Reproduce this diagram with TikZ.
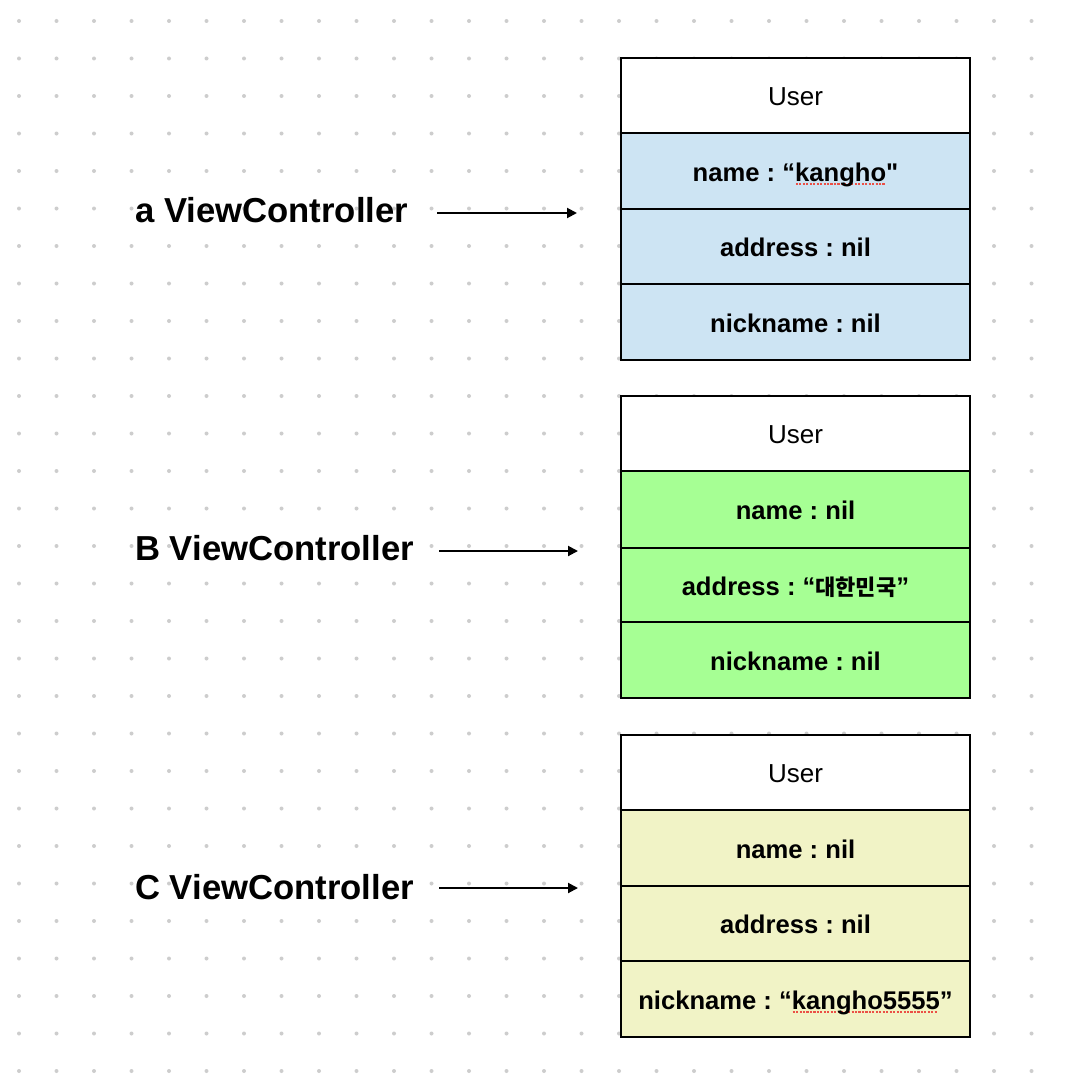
\documentclass[tikz,border=0pt]{standalone}
\usepackage{fontspec}
\setmainfont{Liberation Sans}
\newfontfamily\krfont{Noto Sans CJK KR}
\newfontfamily\noligfont{Liberation Sans}[Ligatures=TeXOff]
\usetikzlibrary{arrows.meta}
\definecolor{bluefill}{RGB}{205,228,243}
\definecolor{greenfill}{RGB}{166,255,148}
\definecolor{yellowfill}{RGB}{241,243,198}
\definecolor{dotc}{RGB}{205,205,205}
\definecolor{squig}{RGB}{235,80,70}
\frenchspacing
\newcommand\redsq[1]{\setbox0\hbox{#1}\rlap{\raisebox{-2.4pt}{\color{squig}\hbox to \wd0{\leaders\hbox to 2.6pt{\hss\rule{1.6pt}{1.3pt}\hss}\hfill}}}\box0}
\newcommand\kr[1]{{\krfont\fontsize{16.5pt}{18pt}\selectfont #1}}
\newcommand\straightq{{\noligfont\bfseries "}}
\tikzset{
  rowbox/.style={draw=black, line width=1.6pt, minimum width=261.75pt, inner sep=0pt,
    text height=20.5pt, text depth=5pt, font=\fontsize{19.2pt}{22pt}\selectfont\bfseries},
  headbox/.style={rowbox, fill=white, font=\fontsize{19.5pt}{22pt}\selectfont},
  rh/.style={minimum height=#1*0.75pt},
  lbl/.style={anchor=west, inner sep=0pt, font=\fontsize{26pt}{30pt}\selectfont\bfseries},
  arr/.style={line width=1.5pt, -{Triangle[length=7.5pt,width=7.5pt]}}
}
\begin{document}
\begin{tikzpicture}[x=0.75pt,y=-0.75pt]
\fill[white] (0,0) rectangle (1064,1088);
\useasboundingbox (0,0) rectangle (1064,1088);
\foreach \i in {0,...,27} \foreach \j in {0,...,28}
  \fill[dotc] (19+37.5*\i, 21+37.5*\j) circle[radius=1.5pt];

% Box A
\node[headbox, rh=75] (u1) at (795.5,95.5) {User};
\node[rowbox, rh=76, fill=bluefill] (a1) at (795.5,171) {name : “\redsq{kangho}\straightq};
\node[rowbox, rh=75, fill=bluefill] (a2) at (795.5,246.5) {address : nil};
\node[rowbox, rh=76, fill=bluefill] (a3) at (795.5,322) {nickname : nil};

% Box B
\node[headbox, rh=75] (u2) at (795.5,433.5) {User};
\node[rowbox, rh=77, fill=greenfill] (b1) at (795.5,509.5) {name : nil};
\node[rowbox, rh=74, fill=greenfill] (b2) at (795.5,585) {address : “\kr{대한민국}”};
\node[rowbox, rh=76, fill=greenfill] (b3) at (795.5,660) {nickname : nil};

% Box C
\node[headbox, rh=75] (u3) at (795.5,772.5) {User};
\node[rowbox, rh=76, fill=yellowfill] (c1) at (795.5,848) {name : nil};
\node[rowbox, rh=75, fill=yellowfill] (c2) at (795.5,923.5) {address : nil};
\node[rowbox, rh=76, fill=yellowfill] (c3) at (795.5,999) {nickname : “\redsq{kangho5555}”};

% Labels
\node[lbl] (la) at (135,210) {a ViewController};
\node[lbl] (lb) at (135,548) {B ViewController};
\node[lbl] (lc) at (135,887) {C ViewController};

% Arrows
\coordinate (aS) at (437,213); \coordinate (aE) at (577,213);
\coordinate (bS) at (439,551); \coordinate (bE) at (578,551);
\coordinate (cS) at (439,888); \coordinate (cE) at (578,888);
\draw[arr] (aS) -- (aE);
\draw[arr] (bS) -- (bE);
\draw[arr] (cS) -- (cE);
\end{tikzpicture}
\end{document}
